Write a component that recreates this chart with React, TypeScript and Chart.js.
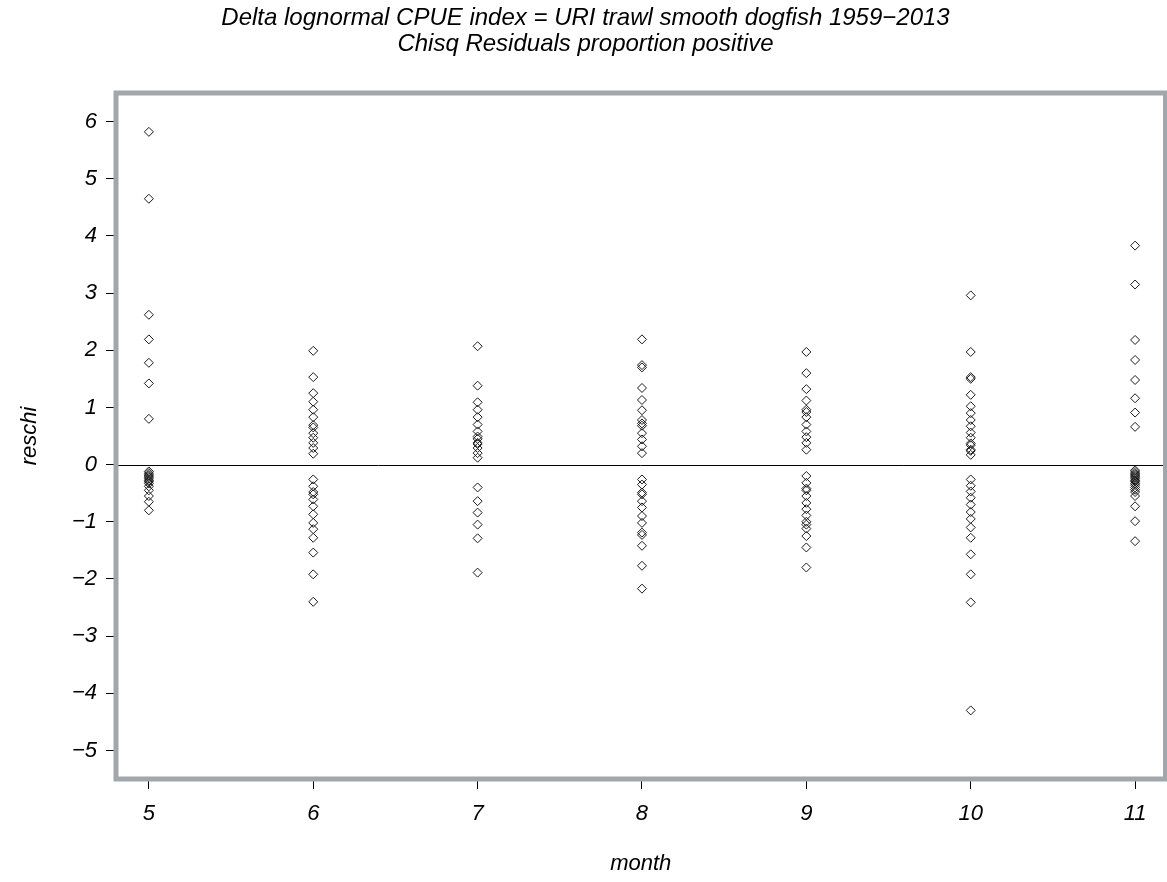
import React, { useEffect, useRef } from "react";
import { Chart, registerables } from "chart.js";

Chart.register(...registerables);

const titleLines = [
  "Delta lognormal CPUE index = URI trawl smooth dogfish 1959\u22122013",
  "Chisq Residuals proportion positive",
];
const xTitle = "month";
const yTitle = "reschi";

const months = [5, 6, 7, 8, 9, 10, 11];
const yTickValues = [-5, -4, -3, -2, -1, 0, 1, 2, 3, 4, 5, 6];

const month5Values = [5.82, 4.65, 2.62, 2.19, 1.78, 1.42, 0.8, -0.12, -0.15, -0.18, -0.2, -0.22, -0.25, -0.28, -0.3, -0.33, -0.38, -0.45, -0.55, -0.65, -0.8];
const month6Values = [1.99, 1.53, 1.25, 1.1, 0.96, 0.83, 0.69, 0.65, 0.55, 0.47, 0.38, 0.29, 0.19, -0.26, -0.38, -0.48, -0.52, -0.61, -0.73, -0.87, -1.02, -1.13, -1.28, -1.54, -1.92, -2.4];
const month7Values = [2.07, 1.38, 1.09, 0.96, 0.83, 0.7, 0.58, 0.49, 0.45, 0.38, 0.36, 0.29, 0.2, 0.12, -0.4, -0.64, -0.84, -1.05, -1.29, -1.89];
const month8Values = [2.19, 1.74, 1.7, 1.34, 1.13, 0.95, 0.78, 0.72, 0.68, 0.55, 0.44, 0.32, 0.2, -0.26, -0.35, -0.49, -0.52, -0.64, -0.75, -0.9, -1.02, -1.19, -1.23, -1.42, -1.77, -2.17];
const month9Values = [1.97, 1.6, 1.32, 1.12, 0.96, 0.92, 0.83, 0.7, 0.58, 0.48, 0.38, 0.26, -0.2, -0.32, -0.42, -0.45, -0.55, -0.67, -0.78, -0.89, -1.0, -1.05, -1.12, -1.25, -1.45, -1.8];
const month10Values = [2.96, 1.97, 1.53, 1.5, 1.22, 1.02, 0.9, 0.78, 0.67, 0.56, 0.47, 0.37, 0.34, 0.26, 0.24, 0.17, -0.26, -0.37, -0.47, -0.58, -0.7, -0.83, -0.95, -1.1, -1.28, -1.57, -1.92, -2.41, -4.3];
const month11Values = [3.83, 3.15, 2.18, 1.83, 1.48, 1.16, 0.91, 0.66, -0.1, -0.13, -0.16, -0.18, -0.2, -0.22, -0.25, -0.28, -0.3, -0.33, -0.36, -0.4, -0.44, -0.48, -0.55, -0.73, -0.99, -1.34];

const valuesByMonth = [month5Values, month6Values, month7Values, month8Values, month9Values, month10Values, month11Values];

const FONT = "'Liberation Sans', Arial, Helvetica, sans-serif";
const FRAME_COLOR = "#a2a7ac";

const framePlugin = {
  id: "framePlugin",
  beforeDatasetsDraw(chart: any) {
    const { ctx, chartArea, scales } = chart;
    const y0 = Math.round(scales.y.getPixelForValue(0)) + 0.5;
    ctx.save();
    ctx.strokeStyle = "#000";
    ctx.lineWidth = 1;
    ctx.beginPath();
    ctx.moveTo(chartArea.left, y0);
    ctx.lineTo(chartArea.right, y0);
    ctx.stroke();
    ctx.restore();
  },
  afterDraw(chart: any) {
    const { ctx, chartArea } = chart;
    ctx.save();
    ctx.strokeStyle = FRAME_COLOR;
    ctx.lineWidth = 5;
    ctx.strokeRect(chartArea.left, chartArea.top, chartArea.right - chartArea.left, chartArea.bottom - chartArea.top);
    ctx.restore();
  },
};

function fmt(v: number): string {
  return v < 0 ? "\u2212" + Math.abs(v) : String(v);
}

export default function App() {
  const ref = useRef<HTMLCanvasElement | null>(null);

  useEffect(() => {
    document.body.style.margin = "0";
    const canvas = ref.current;
    if (!canvas) return;
    const points: { x: number; y: number }[] = [];
    months.forEach((m, i) => {
      valuesByMonth[i].forEach((v) => points.push({ x: m, y: v }));
    });

    const chart = new Chart(canvas, {
      type: "scatter",
      data: {
        datasets: [
          {
            data: points,
            pointStyle: "rectRot",
            pointRadius: 4.5,
            pointHoverRadius: 4.5,
            borderWidth: 1,
            borderColor: "#1a1a1a",
            backgroundColor: "rgba(0,0,0,0)",
          },
        ],
      },
      plugins: [framePlugin],
      options: {
        responsive: false,
        animation: false,
        layout: { padding: { left: 0, right: 0, top: 0, bottom: 0 } },
        plugins: {
          legend: { display: false },
          tooltip: { enabled: false },
          title: {
            display: true,
            text: titleLines,
            color: "#000",
            font: { family: FONT, size: 24, style: "italic", weight: "normal", lineHeight: 1.1 },
            padding: { top: 5, bottom: 35.2 },
          },
        },
        scales: {
          x: {
            type: "linear",
            min: 4.8,
            max: 11.185,
            afterBuildTicks(scale: any) {
              scale.ticks = months.map((v) => ({ value: v }));
            },
            afterFit(scale: any) {
              scale.height = 103;
            },
            grid: { drawOnChartArea: false, drawTicks: true, tickLength: 10, tickColor: "#000", tickWidth: 1 },
            border: { display: false },
            ticks: {
              color: "#000",
              padding: 12,
              maxRotation: 0,
              autoSkip: false,
              font: { family: FONT, size: 22, style: "italic" },
              callback: (v: any) => fmt(Number(v)),
            },
            title: {
              display: true,
              text: xTitle,
              color: "#000",
              font: { family: FONT, size: 22, style: "italic" },
              padding: { top: 0, bottom: 5 },
            },
          },
          y: {
            type: "linear",
            min: -5.5,
            max: 6.5,
            afterBuildTicks(scale: any) {
              scale.ticks = yTickValues.map((v) => ({ value: v }));
            },
            afterFit(scale: any) {
              scale.width = 116;
            },
            grid: { drawOnChartArea: false, drawTicks: true, tickLength: 10, tickColor: "#000", tickWidth: 1 },
            border: { display: false },
            ticks: {
              color: "#000",
              padding: 9,
              autoSkip: false,
              font: { family: FONT, size: 22, style: "italic" },
              callback: (v: any) => fmt(Number(v)),
            },
            title: {
              display: true,
              text: yTitle,
              color: "#000",
              font: { family: FONT, size: 22, style: "italic" },
              padding: { top: 17, bottom: 0 },
            },
          },
        },
      },
    } as any);

    return () => chart.destroy();
  }, []);

  return (
    <div style={{ width: 1167, height: 882, position: "relative", overflow: "hidden", background: "#fff" }}>
      <canvas ref={ref} width={1171} height={882} style={{ display: "block", width: 1171, height: 882 }} />
    </div>
  );
}
